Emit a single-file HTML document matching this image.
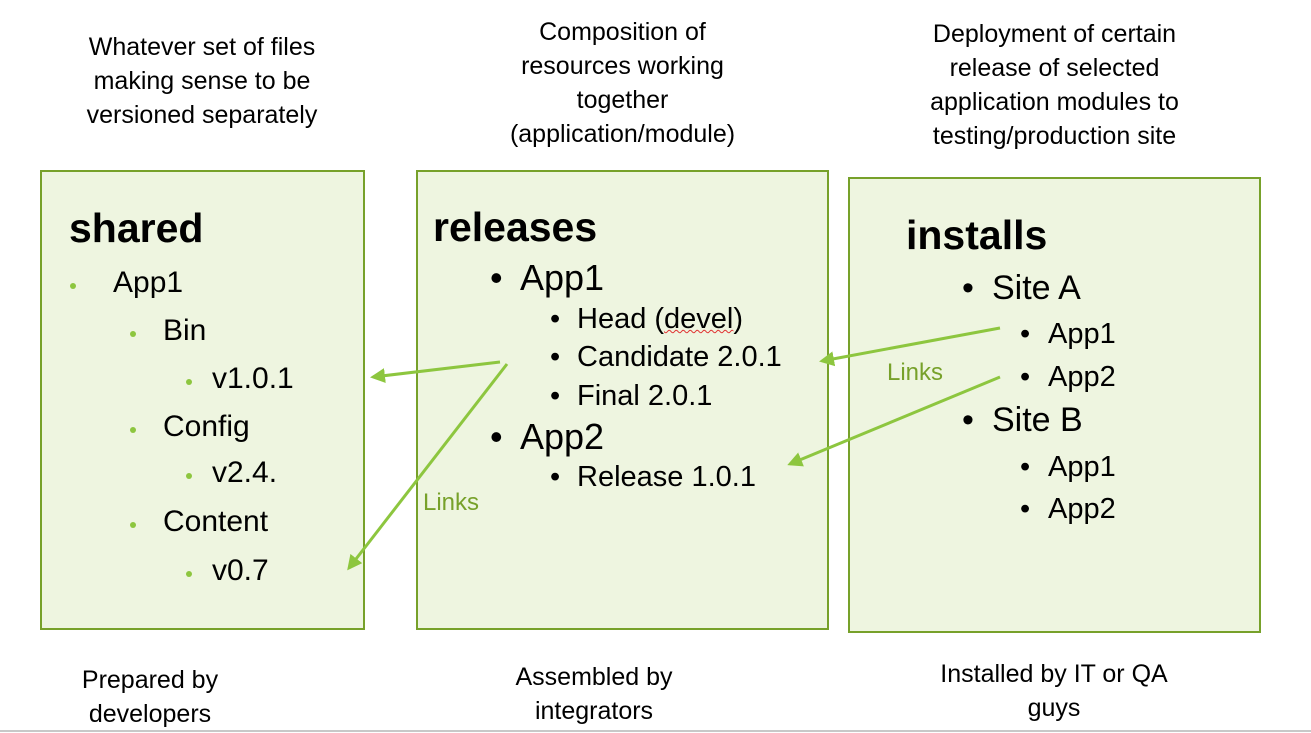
<!DOCTYPE html>
<html><head><meta charset="utf-8"><style>
html,body{margin:0;padding:0;background:#fff}
body{width:1311px;height:733px;position:relative;overflow:hidden;font-family:"Liberation Sans",sans-serif;color:#000}
.box{position:absolute;background:#eef5e0;border:2px solid #77a12a;box-sizing:border-box}
.t{position:absolute;line-height:1;white-space:nowrap}
.c{position:absolute;text-align:center;font-size:25px;line-height:34px;white-space:nowrap}
.b{font-weight:bold;font-size:41px}
.s30{font-size:30px}.s36{font-size:36px}.s29{font-size:29px}.s34{font-size:34px}
.gd{position:absolute;width:6px;height:6px;border-radius:50%;background:#8dc63f}
.g{color:#77a12a;font-size:24px}
</style></head><body>
<div class="c" style="left:40px;width:324px;top:30px">Whatever set of files<br>making sense to be<br>versioned separately</div>
<div class="c" style="left:417px;width:411px;top:15px">Composition of<br>resources working<br>together<br>(application/module)</div>
<div class="c" style="left:849px;width:411px;top:17px">Deployment of certain<br>release of selected<br>application modules to<br>testing/production site</div>

<div class="box" style="left:40px;top:170px;width:325px;height:460px"></div>
<div class="box" style="left:416px;top:170px;width:413px;height:460px"></div>
<div class="box" style="left:848px;top:177px;width:413px;height:456px"></div>

<div class="t b" style="left:69px;top:208px">shared</div>
<div class="gd" style="left:70px;top:283px"></div><div class="t s30" style="left:113px;top:268px">App1</div>
<div class="gd" style="left:130px;top:331px"></div><div class="t s30" style="left:163px;top:316px">Bin</div>
<div class="gd" style="left:186px;top:379px"></div><div class="t s30" style="left:212px;top:364px">v1.0.1</div>
<div class="gd" style="left:130px;top:427px"></div><div class="t s30" style="left:163px;top:412px">Config</div>
<div class="gd" style="left:186px;top:473px"></div><div class="t s30" style="left:212px;top:458px">v2.4.</div>
<div class="gd" style="left:130px;top:522px"></div><div class="t s30" style="left:163px;top:507px">Content</div>
<div class="gd" style="left:186px;top:571px"></div><div class="t s30" style="left:212px;top:556px">v0.7</div>

<div class="t b" style="left:433px;top:207px">releases</div>
<div class="t s36" style="left:490px;top:260px">•</div><div class="t s36" style="left:520px;top:260px">App1</div>
<div class="t s29" style="left:550px;top:305px">•</div><div class="t s29" style="left:577px;top:305px">Head (<span style="text-decoration:underline wavy #e03030;text-decoration-thickness:1px">devel</span>)</div>
<div class="t s29" style="left:550px;top:343px">•</div><div class="t s29" style="left:577px;top:343px">Candidate 2.0.1</div>
<div class="t s29" style="left:550px;top:382px">•</div><div class="t s29" style="left:577px;top:382px">Final 2.0.1</div>
<div class="t s36" style="left:490px;top:419px">•</div><div class="t s36" style="left:520px;top:419px">App2</div>
<div class="t s29" style="left:550px;top:463px">•</div><div class="t s29" style="left:577px;top:463px">Release 1.0.1</div>

<div class="t b" style="left:906px;top:215px">installs</div>
<div class="t s34" style="left:962px;top:271px">•</div><div class="t s34" style="left:992px;top:271px">Site A</div>
<div class="t s29" style="left:1020px;top:320px">•</div><div class="t s29" style="left:1048px;top:320px">App1</div>
<div class="t s29" style="left:1020px;top:363px">•</div><div class="t s29" style="left:1048px;top:363px">App2</div>
<div class="t s34" style="left:962px;top:403px">•</div><div class="t s34" style="left:992px;top:403px">Site B</div>
<div class="t s29" style="left:1020px;top:453px">•</div><div class="t s29" style="left:1048px;top:453px">App1</div>
<div class="t s29" style="left:1020px;top:495px">•</div><div class="t s29" style="left:1048px;top:495px">App2</div>

<div class="t g" style="left:423px;top:491px">Links</div>
<div class="t g" style="left:887px;top:361px">Links</div>

<svg style="position:absolute;left:0;top:0" width="1311" height="733">
<defs><marker id="a" markerWidth="5" markerHeight="5" refX="4" refY="2.5" orient="auto" markerUnits="strokeWidth"><path d="M0,0 L5,2.5 L0,5 Z" fill="#8dc63f"/></marker></defs>
<g stroke="#8dc63f" stroke-width="3" fill="none" marker-end="url(#a)">
<line x1="500" y1="362" x2="373" y2="377"/>
<line x1="507" y1="364" x2="349" y2="568"/>
<line x1="1000" y1="328" x2="822" y2="361"/>
<line x1="1000" y1="377" x2="790" y2="464"/>
</g>
<line x1="0" y1="731" x2="1311" y2="731" stroke="#c8c8c8" stroke-width="2"/>
</svg>

<div class="c" style="left:0;width:300px;top:663px">Prepared by<br>developers</div>
<div class="c" style="left:444px;width:300px;top:660px">Assembled by<br>integrators</div>
<div class="c" style="left:904px;width:300px;top:657px">Installed by IT or QA<br>guys</div>
</body></html>
